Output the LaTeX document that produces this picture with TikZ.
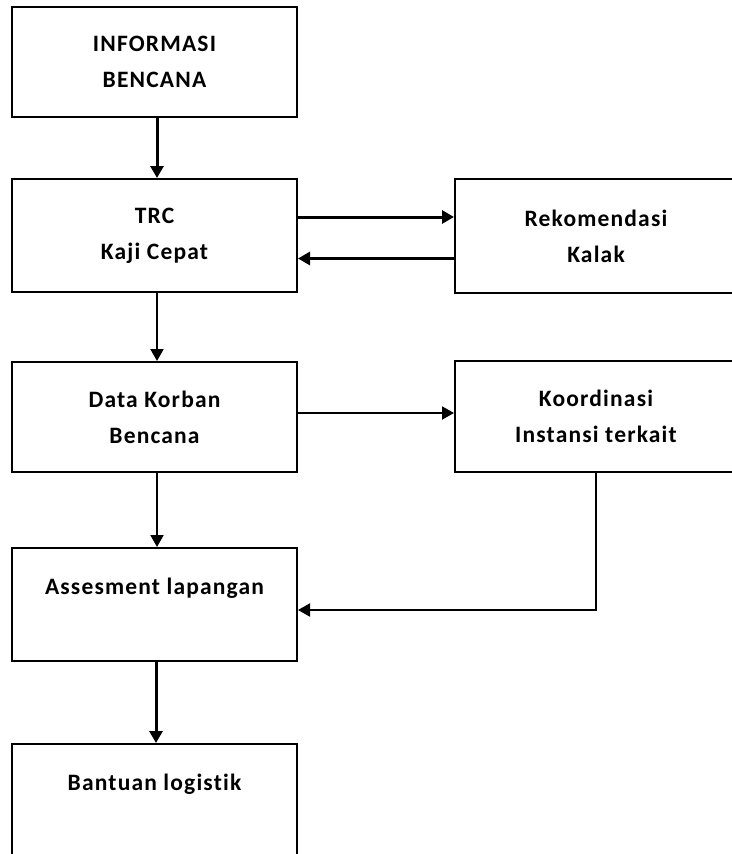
\documentclass[tikz,border=0pt]{standalone}
\usepackage{fontspec}
\setmainfont{Carlito}[LetterSpace=5,Ligatures={NoCommon,NoRare}]
\usetikzlibrary{arrows.meta,calc}
\tikzset{
  box/.style={draw, line width=2pt, rectangle, align=center, inner sep=0pt,
    font=\bfseries\fontsize{23.5pt}{36pt}\selectfont},
  thickarrow/.style={line width=3pt, -{Triangle[length=12pt,width=13pt]}},
  midarrow/.style={line width=2pt, -{Triangle[length=12pt,width=13pt]}},
  thinline/.style={line width=1.2pt},
}
\begin{document}
\begin{tikzpicture}[x=1pt,y=-1pt]
\useasboundingbox[fill=white] (0,0) rectangle (731,854);
\node[box, minimum width=285pt, minimum height=110pt] (info) at (154.5,62) {INFORMASI\\BENCANA};
\node[box, minimum width=285pt, minimum height=113pt] (trc) at (154.5,235.5) {TRC\\Kaji Cepat};
\node[box, minimum width=282pt, minimum height=114pt] (rek) at (596,236) {Rekomendasi\\Kalak};
\node[box, minimum width=285pt, minimum height=110pt] (data) at (154.5,417) {Data Korban\\Bencana};
\node[box, minimum width=282pt, minimum height=111pt] (koord) at (596,416.5) {Koordinasi\\Instansi terkait};
\node[box, minimum width=285pt, minimum height=113pt] (asses) at (154.5,604.5) {Assesment lapangan\\\mbox{}};
\node[box, minimum width=285pt, minimum height=113pt] (bant) at (154.5,800.5) {Bantuan logistik\\\mbox{}};

\draw[thickarrow] ([xshift=2.5pt]info.south) -- ([xshift=2.5pt]trc.north);
\draw[thickarrow] ([yshift=18.5pt]trc.east) -- ([yshift=18.5pt]trc.east -| rek.west);
\draw[thickarrow] ([yshift=-22.5pt]rek.west) -- ([yshift=-22.5pt]rek.west -| trc.east);
\draw[midarrow] ([xshift=2.5pt]trc.south) -- ([xshift=2.5pt]data.north);
\draw[midarrow] ([yshift=4pt]data.east) -- ([yshift=4pt]data.east -| koord.west);
\draw[midarrow] ([xshift=2.5pt]data.south) -- ([xshift=2.5pt]asses.north);
\coordinate (ae) at ([yshift=-5.5pt]asses.east);
\coordinate (kc) at (ae -| koord.south);
\draw[thinline] (koord.south) -- (kc);
\draw[midarrow] ([xshift=0.6pt]kc) -- (ae);
\draw[thickarrow] ([xshift=1.5pt]asses.south) -- ([xshift=1.5pt]bant.north);
\end{tikzpicture}
\end{document}
